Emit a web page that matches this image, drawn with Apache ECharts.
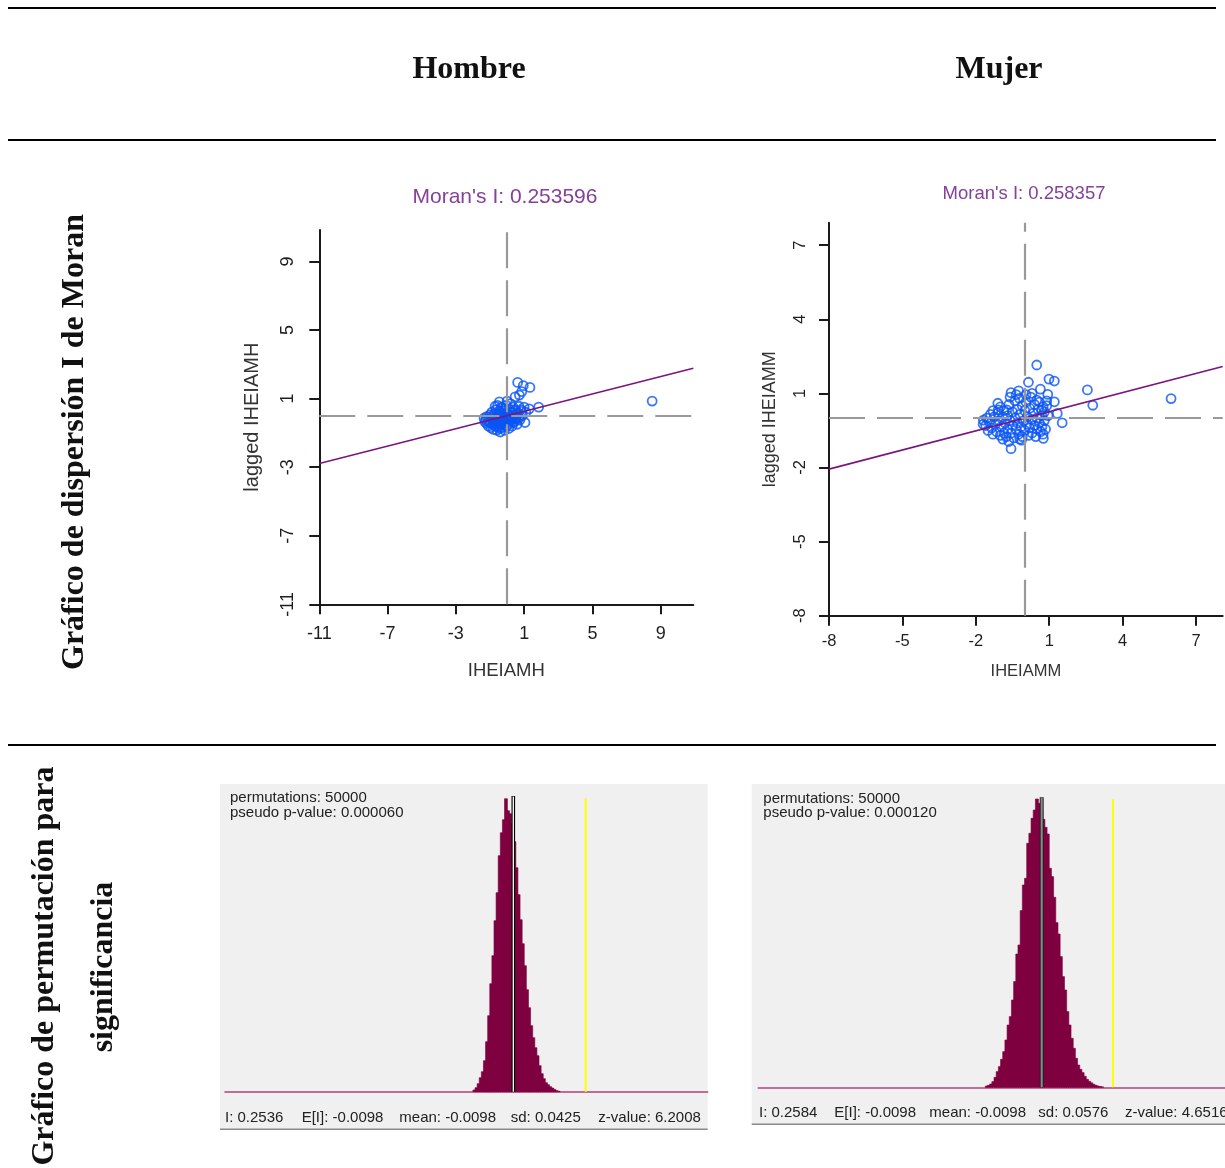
<!DOCTYPE html>
<html>
<head>
<meta charset="utf-8">
<script src="https://cdn.jsdelivr.net/npm/echarts@6/dist/echarts.min.js"></script>
<style>
  html, body { margin: 0; padding: 0; background: #fff; }
  #main { width: 1225px; height: 1168px; }
</style>
</head>
<body>
<div id="main"></div>
<script>
// labels of the table
const columnLabels = ['Hombre', 'Mujer']
const rowLabel1 = 'Gráfico de dispersión I de Moran'
const rowLabel2 = ['Gráfico de permutación para', 'significancia']

// Moran scatter - Hombre (standardized value, spatial lag)
const hombreX = [-1.35, -1.3, -1.2, -1.2, -1.1, -1.1, -1.0, -1.0, -0.95, -0.9, -0.9, -0.85, -0.8, -0.8, -0.75, -0.7, -0.7, -0.65, -0.6, -0.6,
  -0.55, -0.55, -0.5, -0.5, -0.45, -0.45, -0.4, -0.4, -0.35, -0.35, -0.3, -0.3, -0.25, -0.2, -0.2, -0.15, -0.15, -0.1, -0.1, -0.05,
  0.0, 0.0, 0.05, 0.1, 0.1, 0.15, 0.2, 0.2, 0.25, 0.3, 0.3, 0.35, 0.4, 0.45, 0.47, 0.5, 0.55, 0.6, 0.62, 0.65,
  0.7, 0.72, 0.75, 0.8, 0.86, 0.9, 0.95, 1.0, 1.05, 1.1, 1.3, 1.34, 1.85, 8.5, -1.25, -1.05, -0.95, -0.85, -0.75, -0.65,
  -0.6, -0.5, -0.45, -0.4, -0.3, -0.25, -0.2, -0.1, -0.05, 0.05, 0.1, 0.2, 0.25, 0.35, 0.4, 0.5, 0.6, 0.7, 0.85, -0.7,
  -0.55, -0.35, 0.0]
const hombreY = [-0.15, -0.35, -0.05, -0.45, -0.25, -0.6, 0.05, -0.4, -0.7, -0.15, 0.2, -0.5, -0.3, -0.8, 0.1, -0.6, -0.2, 0.35, -0.45, -0.85,
  0.0, -0.3, -0.65, 0.25, 0.81, -0.15, -0.5, -0.95, 0.1, -0.35, 0.45, -0.7, -0.2, 0.05, -0.55, 0.3, -0.85, -0.1, -0.4, 0.6,
  0.15, -0.6, -0.25, 0.4, -0.75, 0.0, -0.45, 0.7, 0.2, -0.15, -0.6, 0.5, 0.05, -0.35, 1.1, 0.3, -0.1, -0.5, 1.94, 0.15,
  0.55, 1.2, -0.25, 0.35, 1.4, 0.0, 1.75, 0.5, -0.4, 0.2, 0.4, 1.65, 0.5, 0.85, -0.25, -0.35, -0.05, -0.25, -0.45, -0.1,
  -0.6, -0.4, -0.75, 0.2, -0.05, -0.45, -0.3, 0.3, -0.2, 0.05, -0.35, 0.2, -0.25, -0.4, 0.35, -0.2, 0.05, -0.15, 0.25, 0.55,
  0.6, 0.5, 0.85]
const hombreTicks = [-11, -7, -3, 1, 5, 9]
const hombreI = 0.253596

// Moran scatter - Mujer
const mujerX = [0.49, 0.15, 0.99, 1.21, -0.56, 0.64, 2.56, 2.78, 5.98, 0.76, -0.56, 1.53, 1.33, 1.21, 0.94, 0.9, -0.13, -1.69, -1.08, -0.74,
  -0.22, 0.49, 0.69, -1.6, -1.55, -1.5, -1.45, -1.4, -1.35, -1.3, -1.25, -1.2, -1.15, -1.1, -1.05, -1.0, -1.0, -0.95, -0.9, -0.85,
  -0.85, -0.8, -0.75, -0.7, -0.7, -0.65, -0.6, -0.55, -0.5, -0.5, -0.45, -0.4, -0.4, -0.35, -0.3, -0.3, -0.25, -0.2, -0.15, -0.1,
  -0.1, -0.05, 0.0, 0.0, 0.05, 0.1, 0.1, 0.15, 0.2, 0.2, 0.25, 0.3, 0.3, 0.35, 0.4, 0.4, 0.45, 0.5, 0.5, 0.55,
  0.6, 0.6, 0.65, 0.7, 0.7, 0.75, 0.75, 0.8, 0.8, 0.85, -1.3, -0.9, -0.6, -0.2, 0.05, -1.7, -1.1, -0.35, 0.9, 0.95,
  -0.25, 0.3, -0.65]
const mujerY = [2.15, 1.45, 1.58, 1.5, 1.03, 1.17, 1.14, 0.52, 0.79, -0.82, -1.24, -0.19, 0.19, 0.66, 0.96, 0.7, -0.89, -0.08, 0.33, 0.33,
  0.8, 0.73, 0.33, -0.3, 0.0, -0.5, -0.15, 0.15, -0.4, -0.65, 0.05, -0.25, -0.55, 0.2, -0.1, -0.7, 0.45, -0.35, 0.05, -0.6,
  0.3, -0.2, -0.75, 0.1, -0.45, 0.55, -0.1, -0.6, 0.25, -0.3, -0.8, 0.0, 0.7, -0.45, 0.35, -0.2, -0.65, 0.15, -0.35, 0.5,
  -0.75, -0.1, 0.3, -0.5, 0.65, -0.25, 0.05, -0.7, 0.4, -0.4, 0.85, -0.05, -0.6, 0.2, -0.3, 0.55, -0.75, 0.0, -0.45, 0.35,
  -0.2, 0.65, -0.55, 0.1, -0.35, 0.45, -0.65, -0.1, 0.25, -0.45, 0.3, -0.85, 0.85, -0.85, 0.95, -0.25, 0.6, 0.95, 0.5, 0.1,
  1.1, 1.0, -0.95]
const mujerTicks = [-8, -5, -2, 1, 4, 7]
const mujerI = 0.258357

// permutation histograms (bar heights)
const hombreHist = [1.7, 4, 8, 14, 20, 31, 50, 76, 108, 136, 171, 199, 236, 259, 272, 293, 281, 278, 268, 250,
  224, 197, 172, 148, 126, 102, 84, 66, 54, 44, 36, 26, 18, 13, 9, 7, 5, 3.7, 2.3, 1, 0.5]
const hombreHistRange = [-0.1553, 0.159]
const mujerHist = [1.3, 2, 3.3, 5.7, 10, 15.7, 20.7, 28, 35.7, 47.3, 62.3, 70.7, 87.3, 105.7, 133.3, 142.3, 176.7, 202.3, 209, 244,
  254, 269, 277.3, 288.3, 284, 277.3, 268, 260, 253.3, 219, 210.7, 190, 164.7, 153.3, 130.7, 110.7, 97.3, 75.7, 62.3, 49,
  39, 29, 22.3, 18, 14.7, 11, 8, 6, 4.5, 3, 2, 1.3, 0.8, 0.4]
const mujerHistRange = [-0.2205, 0.222]
const hombreRefLines = [-0.0098, 0.2536] // mean, observed I
const mujerRefLines = [-0.0098, 0.2584]
const hombreHead = ['permutations: 50000', 'pseudo p-value: 0.000060']
const mujerHead = ['permutations: 50000', 'pseudo p-value: 0.000120']
const hombreSummary = ['I: 0.2536', 'E[I]: -0.0098', 'mean: -0.0098', 'sd: 0.0425', 'z-value: 6.2008']
const mujerSummary = ['I: 0.2584', 'E[I]: -0.0098', 'mean: -0.0098', 'sd: 0.0576', 'z-value: 4.6516']

const sans = "'Liberation Sans', Arial, sans-serif"
const serif = "'Liberation Serif', 'Times New Roman', serif"
const barColor = '#7f0040'
const dotColor = '#0a55f5'

function scatterAxis(grid, ext, ticks, opt) {
  return {
    gridIndex: grid, type: 'value', min: ext[0], max: ext[1],
    axisLine: { show: true, onZero: false, lineStyle: { color: '#1a1a1a', width: 2 } },
    axisTick: { show: true, length: 10, customValues: ticks, lineStyle: { color: '#1a1a1a', width: 2 } },
    axisLabel: { customValues: ticks, fontSize: opt.font, color: '#1e1e1e', margin: opt.margin, rotate: opt.rotate || 0, fontFamily: sans },
    splitLine: { show: false },
    name: opt.name, nameLocation: 'middle', nameGap: opt.nameGap,
    nameTextStyle: { fontSize: opt.nameFont, color: '#333', fontFamily: sans }
  }
}

function histAxisX(grid, ext) {
  return {
    gridIndex: grid, type: 'value', min: ext[0], max: ext[1],
    axisLine: { show: true, onZero: false, lineStyle: { color: '#b0407a', width: 1.5 } },
    axisTick: { show: false }, axisLabel: { show: false }, splitLine: { show: false }
  }
}
function histAxisY(grid, top) {
  return { gridIndex: grid, type: 'value', min: 0, max: top, show: false, splitLine: { show: false } }
}

function histData(hist, range) {
  const w = (range[1] - range[0]) / hist.length
  return hist.map((h, i) => [range[0] + i * w, range[0] + (i + 1) * w, h])
}

function histSeries(axis, hist, range) {
  return {
    type: 'custom', xAxisIndex: axis, yAxisIndex: axis,
    data: histData(hist, range),
    encode: { x: [0, 1], y: 2 },
    renderItem(params, api) {
      const p0 = api.coord([api.value(0), api.value(2)])
      const p1 = api.coord([api.value(1), 0])
      return {
        type: 'rect',
        shape: { x: p0[0] - 0.4, y: p0[1], width: p1[0] - p0[0] + 0.8, height: p1[1] - p0[1] },
        style: { fill: barColor, stroke: barColor, lineWidth: 0.6 }
      }
    },
    z: 3
  }
}

function vline(axis, x, top, color, width, z) {
  return {
    type: 'line', xAxisIndex: axis, yAxisIndex: axis, data: [[x, 0], [x, top]],
    symbol: 'none', lineStyle: { color, width }, z
  }
}

function moranSeries(axis, xs, ys, slope, xExt) {
  return [
    {
      type: 'scatter', xAxisIndex: axis, yAxisIndex: axis,
      data: xs.map((x, i) => [x, ys[i]]),
      symbol: 'circle', symbolSize: 9,
      itemStyle: { color: 'rgba(0,0,0,0)', borderColor: dotColor, borderWidth: 1.8 },
      markLine: {
        silent: true, symbol: 'none', label: { show: false },
        lineStyle: { type: [36, 12], color: '#999', width: 2.2 },
        data: [{ xAxis: 0 }, { yAxis: 0 }]
      },
      z: 3
    },
    {
      type: 'line', xAxisIndex: axis, yAxisIndex: axis,
      data: [[xExt[0], slope * xExt[0]], [xExt[1], slope * xExt[1]]],
      symbol: 'none', lineStyle: { color: '#7a1580', width: 1.6 }, z: 4
    }
  ]
}

const hExtX = [-11, 10.91], hExtY = [-11, 10.83]
const mExtX = [-8, 8.09], mExtY = [-8, 7.91]
const hHistExt = [-1.0586, 0.6974], mHistExt = [-1.076, 0.6798]
const hHistTop = 307.7, mHistTop = 303.3

function txt(x, y, text, font, extra) {
  return { type: 'text', x, y, style: Object.assign({ text, font, fill: '#111', align: 'center', verticalAlign: 'middle' }, extra || {}) }
}
function hline(x1, x2, y, color, width) {
  return { type: 'line', shape: { x1, y1: y, x2, y2: y }, style: { stroke: color, lineWidth: width } }
}

const graphics = [
  hline(8, 1216, 8, '#000', 2.2),
  hline(8, 1216, 140, '#000', 2.2),
  hline(8, 1216, 745, '#000', 2),
  txt(469, 70, columnLabels[0], 'bold 32px ' + serif),
  txt(999, 70, columnLabels[1], 'bold 32px ' + serif),
  Object.assign(txt(75, 442, rowLabel1, 'bold 32px ' + serif), { rotation: Math.PI / 2 }),
  Object.assign(txt(45, 966, rowLabel2[0], 'bold 32px ' + serif), { rotation: Math.PI / 2 }),
  Object.assign(txt(104, 967, rowLabel2[1], 'bold 32px ' + serif), { rotation: Math.PI / 2 }),
  txt(505, 197, "Moran's I: " + hombreI, '21px ' + sans, { fill: '#84409a' }),
  txt(1024, 194, "Moran's I: " + mujerI, '18.5px ' + sans, { fill: '#84409a' }),
  // permutation panels
  { type: 'rect', z: -5, shape: { x: 220, y: 784, width: 487.7, height: 345 }, style: { fill: '#f0f0f0' } },
  { type: 'rect', z: -5, shape: { x: 751.7, y: 784, width: 473.3, height: 340 }, style: { fill: '#f0f0f0' } },
  hline(220, 707.7, 1129.3, '#8a8a8a', 1.6),
  hline(751.7, 1225, 1124.3, '#8a8a8a', 1.6),
  txt(230, 798, hombreHead[0], '15px ' + sans, { align: 'left', fill: '#222' }),
  txt(230, 812.7, hombreHead[1], '15px ' + sans, { align: 'left', fill: '#222' }),
  txt(763.3, 799.3, mujerHead[0], '15px ' + sans, { align: 'left', fill: '#222' }),
  txt(763.3, 813.3, mujerHead[1], '15px ' + sans, { align: 'left', fill: '#222' })
]
const hSumX = [225, 301.7, 399.3, 510.7, 598.3]
const mSumX = [759, 834.3, 929.3, 1038.3, 1125]
hombreSummary.forEach((s, i) => graphics.push(txt(hSumX[i], 1118.3, s, '15px ' + sans, { align: 'left', fill: '#222' })))
mujerSummary.forEach((s, i) => graphics.push(txt(mSumX[i], 1113.3, s, '15px ' + sans, { align: 'left', fill: '#222' })))

const chart = echarts.init(document.getElementById('main'))
chart.setOption({
  animation: false,
  backgroundColor: '#fff',
  grid: [
    { left: 319.3, top: 230, width: 374, height: 374.3 },
    { left: 829, top: 222.7, width: 393.7, height: 393 },
    { left: 225, top: 784, width: 482.7, height: 307.7 },
    { left: 758.3, top: 784, width: 466.7, height: 303.3 }
  ],
  xAxis: [
    scatterAxis(0, hExtX, hombreTicks, { font: 18, margin: 21, name: 'IHEIAMH', nameGap: 57, nameFont: 18.5 }),
    scatterAxis(1, mExtX, mujerTicks, { font: 16.5, margin: 17, name: 'IHEIAMM', nameGap: 47, nameFont: 16.5 }),
    histAxisX(2, hHistExt),
    histAxisX(3, mHistExt)
  ],
  yAxis: [
    scatterAxis(0, hExtY, hombreTicks, { font: 18, margin: 22, rotate: 90, name: 'lagged IHEIAMH', nameGap: 57, nameFont: 20 }),
    scatterAxis(1, mExtY, mujerTicks, { font: 16.5, margin: 20, rotate: 90, name: 'lagged IHEIAMM', nameGap: 50, nameFont: 18 }),
    histAxisY(2, hHistTop),
    histAxisY(3, mHistTop)
  ],
  series: [
    ...moranSeries(0, hombreX, hombreY, hombreI, hExtX),
    ...moranSeries(1, mujerX, mujerY, mujerI, mExtX),
    histSeries(2, hombreHist, hombreHistRange),
    histSeries(3, mujerHist, mujerHistRange),
    vline(2, hombreRefLines[0], 295.7, '#000', 3.6, 5),
    vline(2, hombreRefLines[0], 295.2, '#fff', 1.3, 6),
    vline(2, hombreRefLines[1], 293.7, '#ffff00', 2, 5),
    vline(3, mujerRefLines[0], 290, '#222', 4, 5),
    vline(3, mujerRefLines[0], 289.5, '#8a8a8a', 2, 6),
    vline(3, mujerRefLines[1], 288, '#ffff00', 2, 5)
  ],
  graphic: { elements: graphics }
})
</script>
</body>
</html>
